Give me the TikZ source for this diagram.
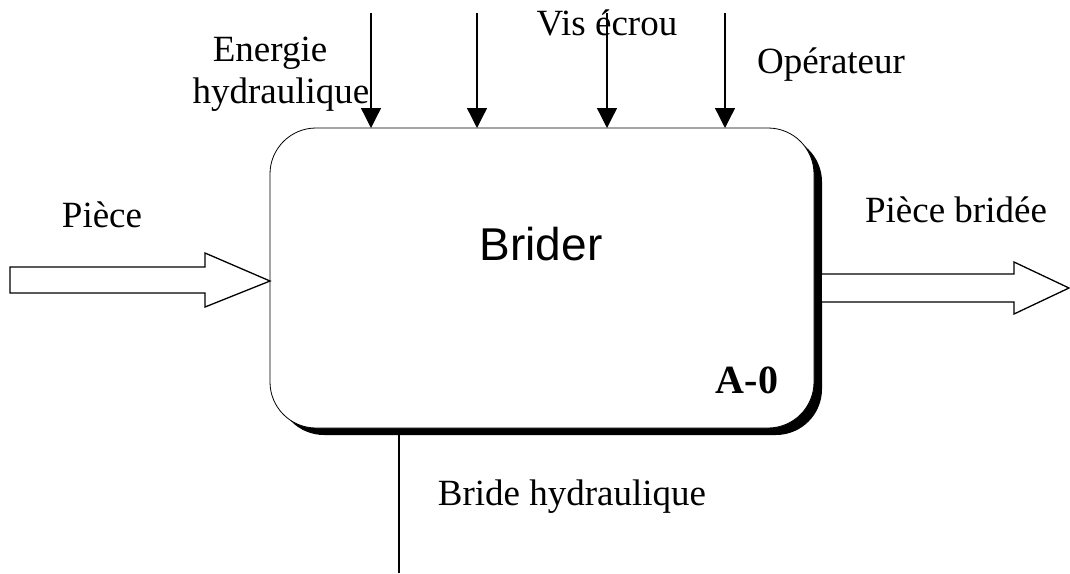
\documentclass[tikz,border=0pt]{standalone}
\usepackage{fontspec}
\setmainfont{Liberation Serif}
\newfontfamily\arialfont{Liberation Sans}
\begin{document}
\begin{tikzpicture}[x=1pt,y=-1pt,
  lbl/.style={anchor=base,inner sep=0pt,font=\fontsize{37}{42}\selectfont},
  ctrl/.style={line width=1.3pt,-{Triangle[width=20pt,length=20pt]}},
  hollow/.style={draw=black,line width=1.3pt,fill=white,line join=miter}]
\usetikzlibrary{arrows.meta}
\useasboundingbox (0,0) rectangle (1070,573);
% shadow and box
\fill[rounded corners=46pt] (278,136) rectangle (822,435);
\draw[fill=white,line width=0.8pt,rounded corners=46pt] (270,128) rectangle (814,428);
\node[inner sep=0pt,minimum width=544pt,minimum height=300pt] (box) at (542,278) {};
\node[anchor=base,inner sep=0pt,font=\arialfont\fontsize{46}{50}\selectfont] (title) at (541,260) {Brider};
\node[anchor=base,inner sep=0pt,font=\bfseries\fontsize{40}{42}\selectfont] (code) at (747,393) {A-0};
% top control arrows
\foreach \n/\x in {c1/371,c2/477,c3/607,c4/725}{
  \coordinate (\n s) at (\x,13);
  \coordinate (\n e) at (\x,128);
  \draw[ctrl] (\n s) -- (\n e);
}
% labels
\node[lbl] (l1) at (270,61) {Energie};
\node[lbl] (l2) at (281,103) {hydraulique};
\node[lbl] (l3) at (607,35) {Vis écrou};
\node[lbl] (l4) at (831,73) {Opérateur};
\node[lbl] (l5) at (102,227) {Pièce};
\node[lbl] (l6) at (956,222) {Pièce bridée};
\node[lbl] (l7) at (572,505) {Bride hydraulique};
% input hollow arrow
\draw[hollow] (10,267) -- (205,267) -- (205,253) -- (270,281) -- (205,307) -- (205,293) -- (10,293) -- cycle;
% output hollow arrow
\draw[hollow] (822,274) -- (1014,274) -- (1014,262) -- (1069,288) -- (1014,314) -- (1014,302) -- (822,302);
% mechanism
\coordinate (m1) at (399,435);
\coordinate (m2) at (399,573);
\draw[line width=1.3pt] (m1) -- (m2);
\end{tikzpicture}
\end{document}
